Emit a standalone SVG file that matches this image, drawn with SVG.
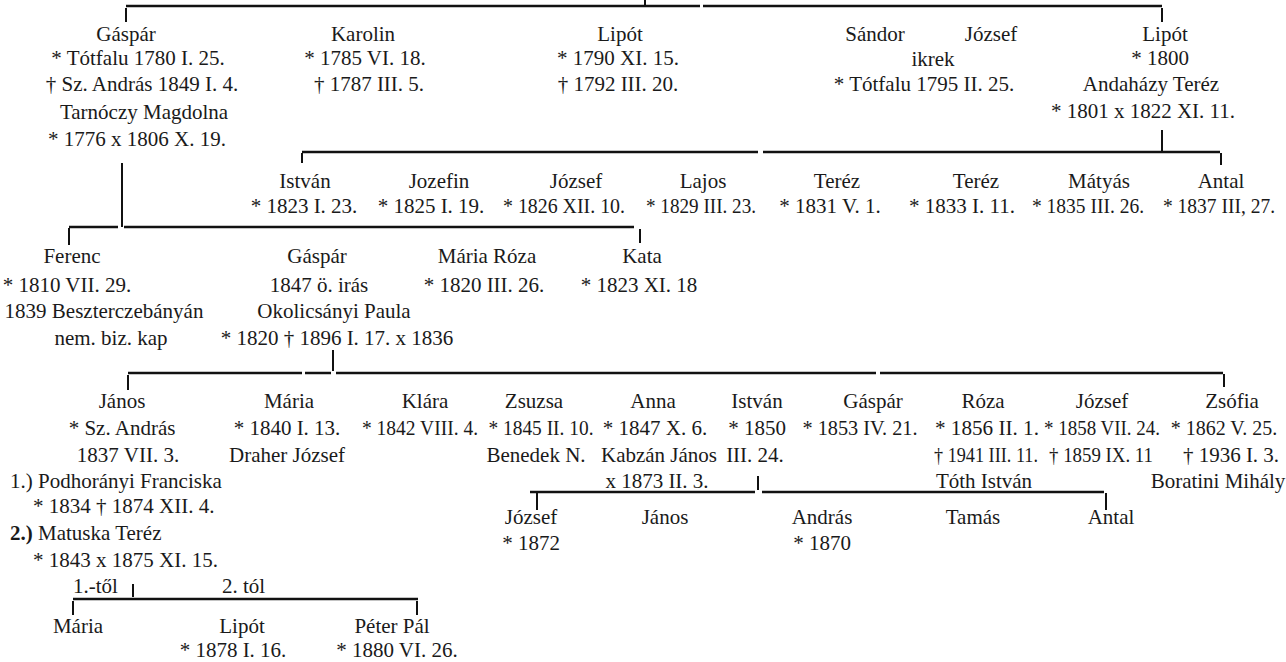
<svg xmlns="http://www.w3.org/2000/svg" width="1286" height="662" viewBox="0 0 1286 662">
<style>
.t{font-family:"Liberation Serif","Times New Roman",serif;font-size:21px;fill:#1a1a1a;text-anchor:middle}
.s{text-anchor:start}
.b{font-weight:bold}
.n{font-size:20px}
.c{stroke:#111;stroke-width:2;fill:none}
.k{stroke:#111;stroke-width:2.5;fill:none}
</style>
<rect width="1286" height="662" fill="#fff"/>
<g id="connectors">
  <path class="k" d="M126 6H700M703 6H1162"/>
  <path class="c" d="M645 0V6"/>
  <path class="c" d="M126 8V22M1162 8V22"/>
  <path class="c" d="M1162 130V151"/>
  <path class="k" d="M302 152H758M763 152H1220"/>
  <path class="c" d="M302 153V163M1221 153V165"/>
  <path class="c" d="M122 163V227"/>
  <path class="k" d="M69 227H118M124 227H634"/>
  <path class="c" d="M69 228V245M640 229V243"/>
  <path class="c" d="M333 350V371"/>
  <path class="k" d="M128 373H302M305 373H331M336 373H876M880 373H1223"/>
  <path class="c" d="M128 375V390M1224 374V387"/>
  <path class="c" d="M758 476V490"/>
  <path class="k" d="M530 492H755M762 492H1104"/>
  <path class="c" d="M537 493V510M1106 493V510"/>
  <path class="c" d="M133 584V597"/>
  <path class="k" d="M73 599H418"/>
  <path class="c" d="M73 601V615M417 601V615"/>
  <text class="t s" x="73" y="593">1.-től</text>
  <text class="t s" x="222" y="593">2. tól</text>
</g>
<g id="p-gaspar-1780">
  <text class="t" x="126" y="41">Gáspár</text>
  <text class="t" x="138" y="65">* Tótfalu 1780 I. 25.</text>
  <text class="t" x="142" y="91">† Sz. András 1849 I. 4.</text>
  <text class="t" x="144" y="119">Tarnóczy Magdolna</text>
  <text class="t" x="137" y="146">* 1776 x 1806 X. 19.</text>
</g>
<g id="p-karolin">
  <text class="t" x="363" y="41">Karolin</text>
  <text class="t" x="365" y="65">* 1785 VI. 18.</text>
  <text class="t" x="369" y="91">† 1787 III. 5.</text>
</g>
<g id="p-lipot-1790">
  <text class="t" x="620" y="41">Lipót</text>
  <text class="t" x="618" y="65">* 1790 XI. 15.</text>
  <text class="t" x="618" y="91">† 1792 III. 20.</text>
</g>
<g id="p-sandor-jozsef">
  <text class="t" x="875" y="41">Sándor</text>
  <text class="t" x="991" y="41">József</text>
  <text class="t" x="933" y="66">ikrek</text>
  <text class="t" x="924" y="91">* Tótfalu 1795 II. 25.</text>
</g>
<g id="p-lipot-1800">
  <text class="t" x="1165" y="41">Lipót</text>
  <text class="t" x="1160" y="65">* 1800</text>
  <text class="t" x="1151" y="91">Andaházy Teréz</text>
  <text class="t" x="1143" y="118">* 1801 x 1822 XI. 11.</text>
</g>
<g id="p-istvan-1823">
  <text class="t" x="305" y="188">István</text>
  <text class="t" x="304" y="213">* 1823 I. 23.</text>
</g>
<g id="p-jozefin">
  <text class="t" x="439" y="188">Jozefin</text>
  <text class="t" x="431" y="213">* 1825 I. 19.</text>
</g>
<g id="p-jozsef-1826">
  <text class="t" x="576" y="188">József</text>
  <text class="t" x="564" y="213" textLength="122" lengthAdjust="spacingAndGlyphs">* 1826 XII. 10.</text>
</g>
<g id="p-lajos">
  <text class="t" x="703" y="188">Lajos</text>
  <text class="t" x="701" y="213" textLength="110" lengthAdjust="spacingAndGlyphs">* 1829 III. 23.</text>
</g>
<g id="p-terez-1831">
  <text class="t" x="837" y="188">Teréz</text>
  <text class="t" x="830" y="213">* 1831 V. 1.</text>
</g>
<g id="p-terez-1833">
  <text class="t" x="976" y="188">Teréz</text>
  <text class="t" x="962" y="213">* 1833 I. 11.</text>
</g>
<g id="p-matyas">
  <text class="t" x="1099" y="188">Mátyás</text>
  <text class="t" x="1088" y="213" textLength="112" lengthAdjust="spacingAndGlyphs">* 1835 III. 26.</text>
</g>
<g id="p-antal-1837">
  <text class="t" x="1221" y="188">Antal</text>
  <text class="t" x="1219" y="213" textLength="112" lengthAdjust="spacingAndGlyphs">* 1837 III, 27.</text>
</g>
<g id="p-ferenc">
  <text class="t" x="72" y="263">Ferenc</text>
  <text class="t" x="67" y="292">* 1810 VII. 29.</text>
  <text class="t" x="104" y="318">1839 Beszterczebányán</text>
  <text class="t" x="111" y="345">nem. biz. kap</text>
</g>
<g id="p-gaspar-1847">
  <text class="t" x="317" y="263">Gáspár</text>
  <text class="t" x="319" y="292">1847 ö. irás</text>
  <text class="t" x="334" y="318">Okolicsányi Paula</text>
  <text class="t" x="337" y="345">* 1820 † 1896 I. 17. x 1836</text>
</g>
<g id="p-maria-roza">
  <text class="t" x="487" y="263">Mária Róza</text>
  <text class="t" x="484" y="292">* 1820 III. 26.</text>
</g>
<g id="p-kata">
  <text class="t" x="642" y="263">Kata</text>
  <text class="t" x="639" y="292">* 1823 XI. 18</text>
</g>
<g id="p-janos-1837">
  <text class="t" x="122" y="408">János</text>
  <text class="t" x="122" y="435">* Sz. András</text>
  <text class="t" x="128" y="462">1837 VII. 3.</text>
  <text class="t s" x="10" y="488">1.) Podhorányi Franciska</text>
  <text class="t s" x="33" y="513">* 1834 † 1874 XII. 4.</text>
  <text class="t s" x="10" y="540"><tspan class="b">2.)</tspan> Matuska Teréz</text>
  <text class="t s" x="33" y="567">* 1843 x 1875 XI. 15.</text>
</g>
<g id="p-maria-1840">
  <text class="t" x="289" y="408">Mária</text>
  <text class="t" x="287" y="435">* 1840 I. 13.</text>
  <text class="t" x="287" y="462">Draher József</text>
</g>
<g id="p-klara">
  <text class="t" x="425" y="408">Klára</text>
  <text class="t" x="420" y="435" textLength="116" lengthAdjust="spacingAndGlyphs">* 1842 VIII. 4.</text>
</g>
<g id="p-zsuzsa">
  <text class="t" x="534" y="408">Zsuzsa</text>
  <text class="t" x="541" y="435" textLength="105" lengthAdjust="spacingAndGlyphs">* 1845 II. 10.</text>
  <text class="t" x="536" y="462">Benedek N.</text>
</g>
<g id="p-anna">
  <text class="t" x="653" y="408">Anna</text>
  <text class="t" x="655" y="435">* 1847 X. 6.</text>
  <text class="t" x="659" y="462">Kabzán János</text>
  <text class="t" x="657" y="488">x 1873 II. 3.</text>
</g>
<g id="p-istvan-1850">
  <text class="t" x="757" y="408">István</text>
  <text class="t" x="757" y="435">* 1850</text>
  <text class="t" x="755" y="462">III. 24.</text>
</g>
<g id="p-gaspar-1853">
  <text class="t" x="873" y="408">Gáspár</text>
  <text class="t" x="860" y="435" textLength="115" lengthAdjust="spacingAndGlyphs">* 1853 IV. 21.</text>
</g>
<g id="p-roza">
  <text class="t" x="983" y="408">Róza</text>
  <text class="t" x="987" y="435" textLength="104" lengthAdjust="spacingAndGlyphs">* 1856 II. 1.</text>
  <text class="t" x="986" y="462" textLength="104" lengthAdjust="spacingAndGlyphs">† 1941 III. 11.</text>
  <text class="t" x="984" y="488">Tóth István</text>
</g>
<g id="p-jozsef-1858">
  <text class="t" x="1102" y="408">József</text>
  <text class="t" x="1102" y="435" textLength="116" lengthAdjust="spacingAndGlyphs">* 1858 VII. 24.</text>
  <text class="t" x="1101" y="462" textLength="104" lengthAdjust="spacingAndGlyphs">† 1859 IX. 11</text>
</g>
<g id="p-zsofia">
  <text class="t" x="1232" y="408">Zsófia</text>
  <text class="t n" x="1224" y="435">* 1862 V. 25.</text>
  <text class="t" x="1231" y="462">† 1936 I. 3.</text>
  <text class="t" x="1218" y="488">Boratini Mihály</text>
</g>
<g id="p-jozsef-1872">
  <text class="t" x="531" y="524">József</text>
  <text class="t" x="531" y="550">* 1872</text>
</g>
<g id="p-janos-b">
  <text class="t" x="665" y="524">János</text>
</g>
<g id="p-andras">
  <text class="t" x="822" y="524">András</text>
  <text class="t" x="822" y="550">* 1870</text>
</g>
<g id="p-tamas">
  <text class="t" x="973" y="524">Tamás</text>
</g>
<g id="p-antal-b">
  <text class="t" x="1111" y="524">Antal</text>
</g>
<g id="p-maria-c">
  <text class="t" x="78" y="633">Mária</text>
</g>
<g id="p-lipot-1878">
  <text class="t" x="242" y="633">Lipót</text>
  <text class="t" x="233" y="657">* 1878 I. 16.</text>
</g>
<g id="p-peter-pal">
  <text class="t" x="392" y="633">Péter Pál</text>
  <text class="t" x="397" y="657">* 1880 VI. 26.</text>
</g>
</svg>
